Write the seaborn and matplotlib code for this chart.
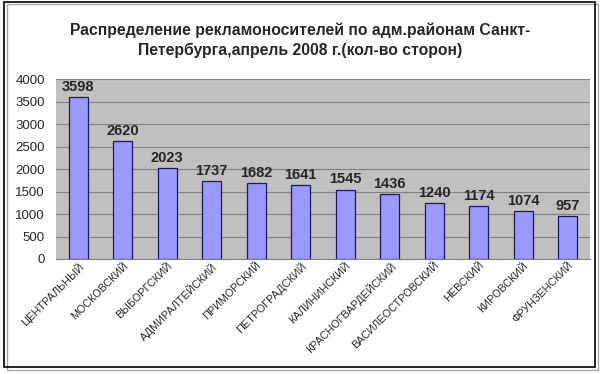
import numpy as np
import pandas as pd
import matplotlib
matplotlib.use('Agg')
import matplotlib.pyplot as plt
import seaborn as sns
from matplotlib.patches import Rectangle

###################################################################################
#Data

districts = ['ЦЕНТРАЛЬНЫЙ', 'МОСКОВСКИЙ', 'ВЫБОРГСКИЙ', 'АДМИРАЛТЕЙСКИЙ', 'ПРИМОРСКИЙ',
             'ПЕТРОГРАДСКИЙ', 'КАЛИНИНСКИЙ', 'КРАСНОГВАРДЕЙСКИЙ', 'ВАСИЛЕОСТРОВСКИЙ',
             'НЕВСКИЙ', 'КИРОВСКИЙ', 'ФРУНЗЕНСКИЙ']
counts = [3598, 2620, 2023, 1737, 1682, 1641, 1545, 1436, 1240, 1174, 1074, 957]
yticks = [0, 500, 1000, 1500, 2000, 2500, 3000, 3500, 4000]

df = pd.DataFrame({'district': districts, 'count': counts})

###################################################################################
#Seaborn Plot

sns.set_style('white')
plt.rcParams['font.family'] = ['Liberation Sans', 'DejaVu Sans']

fig = plt.figure(figsize=(6, 3.74), dpi=100)
ax = fig.add_axes([0.0933, 0.3075, 0.89, 0.481])

sns.barplot(data=df, x='district', y='count', color='#9999FF', saturation=1,
            width=0.42, edgecolor='#1a1a5a', linewidth=0.9, ax=ax, zorder=3)

ax.set_facecolor('#C0C0C0')
ax.set_ylim(0, 4000)
ax.set_xlim(-0.5, len(districts) - 0.5)
ax.set_yticks(yticks)
ax.set_yticklabels([str(t) for t in yticks], fontsize=9.5)
ax.yaxis.grid(True, color='#808080', linewidth=0.8, zorder=0)
ax.set_axisbelow(True)
ax.set_xlabel('')
ax.set_ylabel('')

ax.set_xticks(range(len(districts)))
ax.set_xticklabels(districts, rotation=45, ha='right', rotation_mode='anchor',
                   fontsize=7.8)
ax.tick_params(axis='x', length=0, pad=1)
ax.set_xticks(np.arange(-0.5, len(districts), 1), minor=True)
ax.tick_params(axis='x', which='minor', length=4, color='#808080', direction='out')
ax.tick_params(axis='y', length=0, pad=8)

for s in ['top', 'right', 'left']:
    ax.spines[s].set_visible(False)
ax.spines['bottom'].set_color('#808080')

for i, v in enumerate(counts):
    ax.text(i, v + 70, str(v), ha='center', va='bottom', fontsize=10.5, fontweight='bold')

fig.suptitle('Распределение рекламоносителей по адм.районам Санкт-\nПетербурга,апрель 2008 г.(кол-во сторон)',
             fontsize=11.3, fontweight='bold', y=0.94, linespacing=1.35)

fig.patches.append(Rectangle((0.0067, 0.0187), 0.985, 0.976, transform=fig.transFigure,
                             fill=False, edgecolor='black', linewidth=1.2))
fig.patches.append(Rectangle((0.011, 0.012), 0.985, 0.976, transform=fig.transFigure,
                             fill=False, edgecolor='#aaaaaa', linewidth=1.0, zorder=-1))

fig.savefig('out.png', dpi=100)
